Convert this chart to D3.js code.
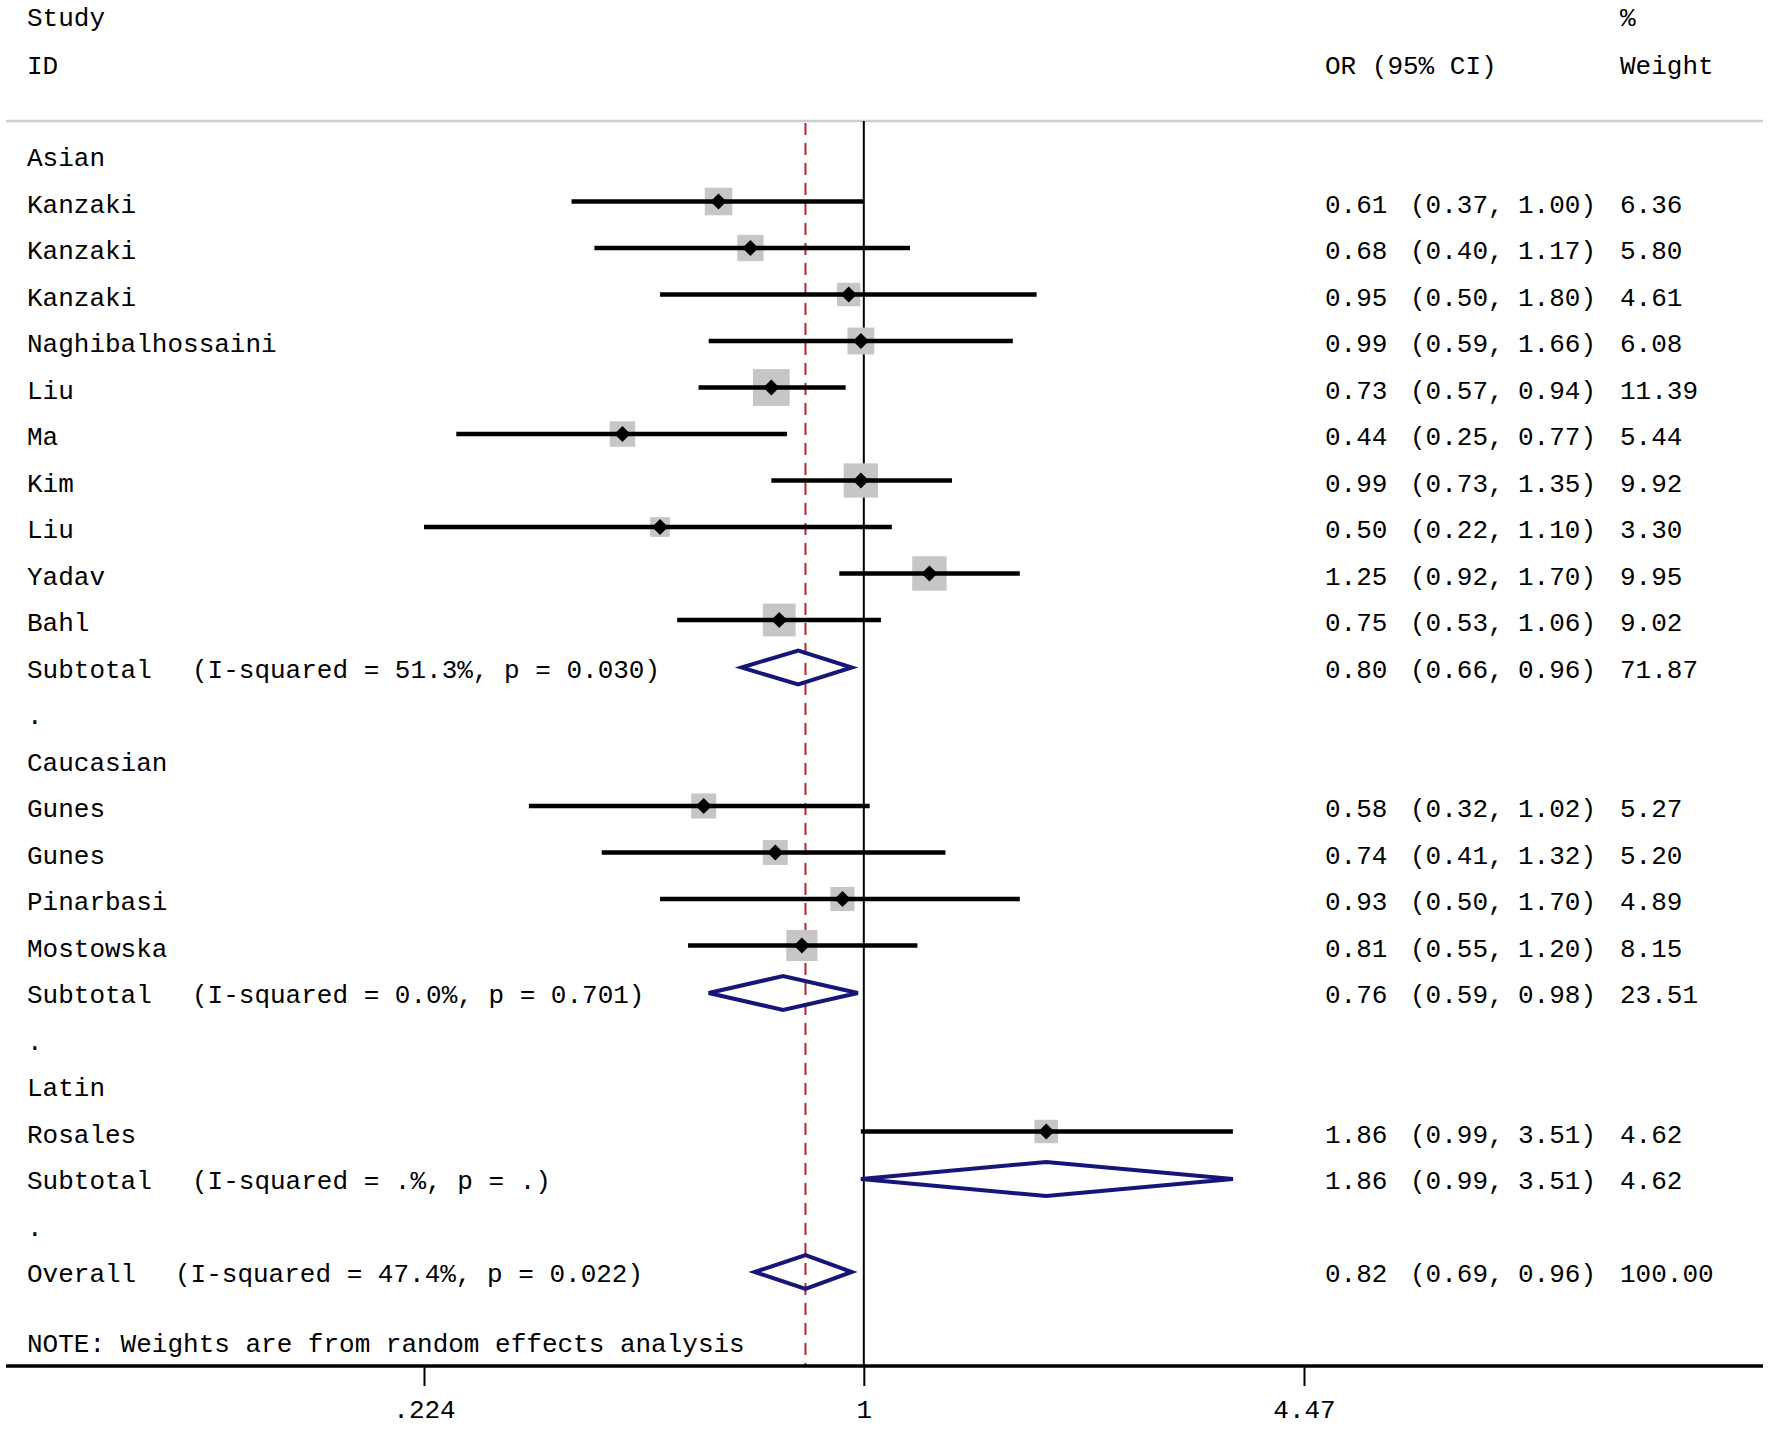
<!DOCTYPE html>
<html>
<head>
<meta charset="utf-8">
<script src="https://cdn.jsdelivr.net/npm/d3@7"></script>
<style>
  html, body { margin: 0; padding: 0; background: #ffffff; }
  svg { display: block; }
  text { font-family: "Liberation Mono", "DejaVu Sans Mono", monospace; font-size: 26px; fill: #000; font-weight: normal; }
</style>
</head>
<body>
<svg id="chart" width="1772" height="1432"></svg>
<script>
// ---------------- DATA ----------------
const rowLabels = [
  "Asian", "Kanzaki", "Kanzaki", "Kanzaki", "Naghibalhossaini", "Liu", "Ma", "Kim", "Liu", "Yadav", "Bahl",
  "Subtotal", ".", "Caucasian", "Gunes", "Gunes", "Pinarbasi", "Mostowska", "Subtotal", ".",
  "Latin", "Rosales", "Subtotal", ".", "Overall"
];
// row type: h = group header, s = study, d = subtotal/overall diamond, b = blank dot
const rowTypes = [
  "h", "s", "s", "s", "s", "s", "s", "s", "s", "s", "s",
  "d", "b", "h", "s", "s", "s", "s", "d", "b",
  "h", "s", "d", "b", "d"
];
const hetLabels = [
  null, null, null, null, null, null, null, null, null, null, null,
  "(I-squared = 51.3%, p = 0.030)", null, null, null, null, null, null, "(I-squared = 0.0%, p = 0.701)", null,
  null, null, "(I-squared = .%, p = .)", null, "(I-squared = 47.4%, p = 0.022)"
];
const orValues = [
  null, 0.61, 0.68, 0.95, 0.99, 0.73, 0.44, 0.99, 0.50, 1.25, 0.75,
  0.80, null, null, 0.58, 0.74, 0.93, 0.81, 0.76, null,
  null, 1.86, 1.86, null, 0.82
];
const ciLower = [
  null, 0.37, 0.40, 0.50, 0.59, 0.57, 0.25, 0.73, 0.224, 0.92, 0.53,
  0.66, null, null, 0.32, 0.41, 0.50, 0.55, 0.59, null,
  null, 0.99, 0.99, null, 0.69
];
const ciUpper = [
  null, 1.00, 1.17, 1.80, 1.66, 0.94, 0.77, 1.35, 1.10, 1.70, 1.06,
  0.96, null, null, 1.02, 1.32, 1.70, 1.20, 0.98, null,
  null, 3.51, 3.51, null, 0.96
];
const weights = [
  null, 6.36, 5.80, 4.61, 6.08, 11.39, 5.44, 9.92, 3.30, 9.95, 9.02,
  71.87, null, null, 5.27, 5.20, 4.89, 8.15, 23.51, null,
  null, 4.62, 4.62, null, 100.00
];
const tickValues = [0.224, 1, 4.47];
const tickLabels = [".224", "1", "4.47"];
const overallOR = 0.82;
const noteText = "NOTE: Weights are from random effects analysis";

// ---------------- LAYOUT ----------------
const svg = d3.select("#chart");
svg.append("rect").attr("width", 1772).attr("height", 1432).attr("fill", "#fff");

const x = d3.scaleLog().domain([0.224, 4.47]).range([424, 1304]);
const yBase = d3.scaleLinear().domain([0, 24]).range([166, 1282]);
const yMid = i => yBase(i) - 11;

const headerLineY = 121;
const axisY = 1366;
const leftX = 27;
const orX = 1325, loX = 1410, hiX = 1518, wX = 1620;
const boxK = 10.9;

// header texts
svg.append("text").attr("x", leftX).attr("y", 26).text("Study");
svg.append("text").attr("x", leftX).attr("y", 74).text("ID");
svg.append("text").attr("x", orX).attr("y", 74).text("OR (95% CI)");
svg.append("text").attr("x", wX).attr("y", 26).text("%");
svg.append("text").attr("x", wX).attr("y", 74).text("Weight");

// header rule
svg.append("line").attr("x1", 6).attr("x2", 1763).attr("y1", headerLineY).attr("y2", headerLineY)
  .attr("stroke", "#cfcfcf").attr("stroke-width", 2.5);

// null line at OR = 1
svg.append("line").attr("x1", x(1)).attr("x2", x(1)).attr("y1", headerLineY).attr("y2", axisY)
  .attr("stroke", "#000").attr("stroke-width", 2);

// overall dashed line
svg.append("line").attr("x1", x(overallOR)).attr("x2", x(overallOR)).attr("y1", headerLineY + 2).attr("y2", axisY)
  .attr("stroke", "#b5262b").attr("stroke-width", 2).attr("stroke-dasharray", "12,8");

const idx = d3.range(rowLabels.length);
const studies = idx.filter(i => rowTypes[i] === "s");
const diamonds = idx.filter(i => rowTypes[i] === "d");

// weight boxes
svg.append("g").selectAll("rect").data(studies).join("rect")
  .attr("x", i => x(orValues[i]) - boxK / 2 * Math.sqrt(weights[i]))
  .attr("y", i => yMid(i) - boxK / 2 * Math.sqrt(weights[i]))
  .attr("width", i => boxK * Math.sqrt(weights[i]))
  .attr("height", i => boxK * Math.sqrt(weights[i]))
  .attr("fill", "#c6c6c6");

// CI lines
svg.append("g").selectAll("line").data(studies).join("line")
  .attr("x1", i => x(ciLower[i])).attr("x2", i => x(ciUpper[i]))
  .attr("y1", i => yMid(i)).attr("y2", i => yMid(i))
  .attr("stroke", "#000").attr("stroke-width", 4.5);

// point estimate markers
svg.append("g").selectAll("path").data(studies).join("path")
  .attr("d", i => {
    const cx = x(orValues[i]), cy = yMid(i), r = 8;
    return `M${cx},${cy - r}L${cx + r},${cy}L${cx},${cy + r}L${cx - r},${cy}Z`;
  })
  .attr("fill", "#000");

// summary diamonds
svg.append("g").selectAll("path").data(diamonds).join("path")
  .attr("d", i => {
    const cy = yMid(i) + 1, h = 17;
    return `M${x(ciLower[i])},${cy}L${x(orValues[i])},${cy - h}L${x(ciUpper[i])},${cy}L${x(orValues[i])},${cy + h}Z`;
  })
  .attr("fill", "none").attr("stroke", "#15157a").attr("stroke-width", 4).attr("stroke-linejoin", "miter");

// left labels
svg.append("g").selectAll("text").data(idx).join("text")
  .attr("x", leftX).attr("y", i => yBase(i)).text(i => rowLabels[i]);
svg.append("g").selectAll("text").data(idx.filter(i => hetLabels[i])).join("text")
  .attr("x", i => rowLabels[i] === "Overall" ? 175 : 192).attr("y", i => yBase(i)).text(i => hetLabels[i]);

// right columns
const num = idx.filter(i => orValues[i] !== null);
const g = svg.append("g");
g.selectAll("text.or").data(num).join("text").attr("class", "or")
  .attr("x", orX).attr("y", i => yBase(i)).text(i => orValues[i].toFixed(2));
g.selectAll("text.lo").data(num).join("text").attr("class", "lo")
  .attr("x", loX).attr("y", i => yBase(i)).text(i => "(" + ciLower[i].toFixed(2) + ",");
g.selectAll("text.hi").data(num).join("text").attr("class", "hi")
  .attr("x", hiX).attr("y", i => yBase(i)).text(i => ciUpper[i].toFixed(2) + ")");
g.selectAll("text.w").data(num).join("text").attr("class", "w")
  .attr("x", wX).attr("y", i => yBase(i)).text(i => weights[i].toFixed(2));

// note
svg.append("text").attr("x", leftX).attr("y", 1352).text(noteText);

// x axis
const axisG = svg.append("g").attr("transform", `translate(0,${axisY})`);
axisG.append("line").attr("x1", 6).attr("x2", 1763).attr("y1", 0).attr("y2", 0)
  .attr("stroke", "#000").attr("stroke-width", 3.5);
const axis = d3.axisBottom(x).tickValues(tickValues).tickFormat((d, k) => tickLabels[k]).tickSize(20).tickPadding(12);
const ag = axisG.append("g").call(axis);
ag.select(".domain").remove();
ag.selectAll(".tick line").attr("stroke", "#000").attr("stroke-width", 2);
ag.selectAll(".tick text").attr("font-family", "Liberation Mono, monospace").attr("font-size", 26)
  .attr("fill", "#000").attr("dy", 0).attr("y", 52);
</script>
</body>
</html>
